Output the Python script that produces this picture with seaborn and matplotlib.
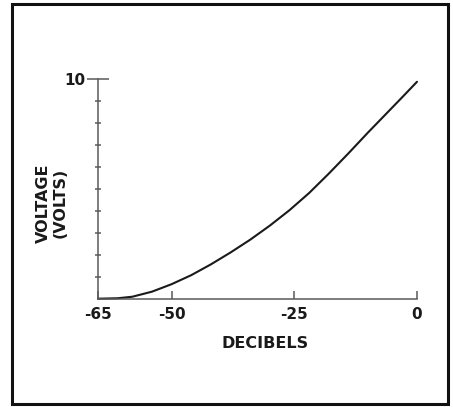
import matplotlib
matplotlib.use("Agg")
import matplotlib.pyplot as plt
import seaborn as sns
import pandas as pd
from matplotlib.patches import Rectangle

# values
decibels = [-65, -61, -58, -54, -50, -46, -42, -38, -34, -30, -26, -22, -18, -14, -10, -6, -3, 0]
voltage = [0.0, 0.02, 0.09, 0.32, 0.66, 1.07, 1.56, 2.1, 2.68, 3.32, 4.02, 4.8, 5.68, 6.6, 7.55, 8.47, 9.16, 9.86]
x_ticks = [-65, -50, -25, 0]
x_labels = ["-65", "-50", "-25", "0"]

sns.set_style("white")
plt.rcParams['font.family'] = ['DejaVu Sans']

df = pd.DataFrame({"db": decibels, "v": voltage})

fig = plt.figure(figsize=(4.53, 4.07), dpi=100)
ax = fig.add_axes([98 / 453, 1 - 298.7 / 407, 319 / 453, 220 / 407])

sns.lineplot(data=df, x="db", y="v", ax=ax, color="#1a1a1a", linewidth=1.5, clip_on=False)

ax.set_xlim(-65, 0)
ax.set_ylim(0, 10)

for side in ["top", "right"]:
    ax.spines[side].set_visible(False)
for side in ["left", "bottom"]:
    ax.spines[side].set_color("#5a5a5a")
    ax.spines[side].set_linewidth(1.1)

ax.set_xticks(x_ticks)
ax.set_xticklabels(x_labels, fontsize=11, fontweight="bold", color="#1a1a1a")
ax.tick_params(axis="x", bottom=True, direction="in", length=6, width=1.1, color="#5a5a5a", pad=6)

ax.set_yticks([10])
ax.set_yticklabels(["10"], fontsize=11, fontweight="bold", color="#1a1a1a")
ax.set_yticks(range(1, 10), minor=True)
ax.tick_params(axis="y", which="major", left=True, direction="inout", length=16, width=1.1, color="#5a5a5a", pad=1)
ax.tick_params(axis="y", which="minor", left=True, direction="inout", length=5, width=1.1, color="#5a5a5a")

ax.set_xlabel("DECIBELS", fontsize=11.5, fontweight="bold", color="#1a1a1a")
ax.xaxis.set_label_coords(0.525, -0.17)
ax.set_ylabel("VOLTAGE\n(VOLTS)", fontsize=11.5, fontweight="bold", color="#1a1a1a",
              linespacing=1.15)
ax.yaxis.set_label_coords(-0.095, 0.435)

# frame around the whole figure
fig.patches.append(Rectangle((12 / 453, 3 / 407), 436 / 453, 400 / 407,
                             transform=fig.transFigure, fill=False,
                             edgecolor="#111111", linewidth=2.2))

plt.savefig("out.png", dpi=100)
